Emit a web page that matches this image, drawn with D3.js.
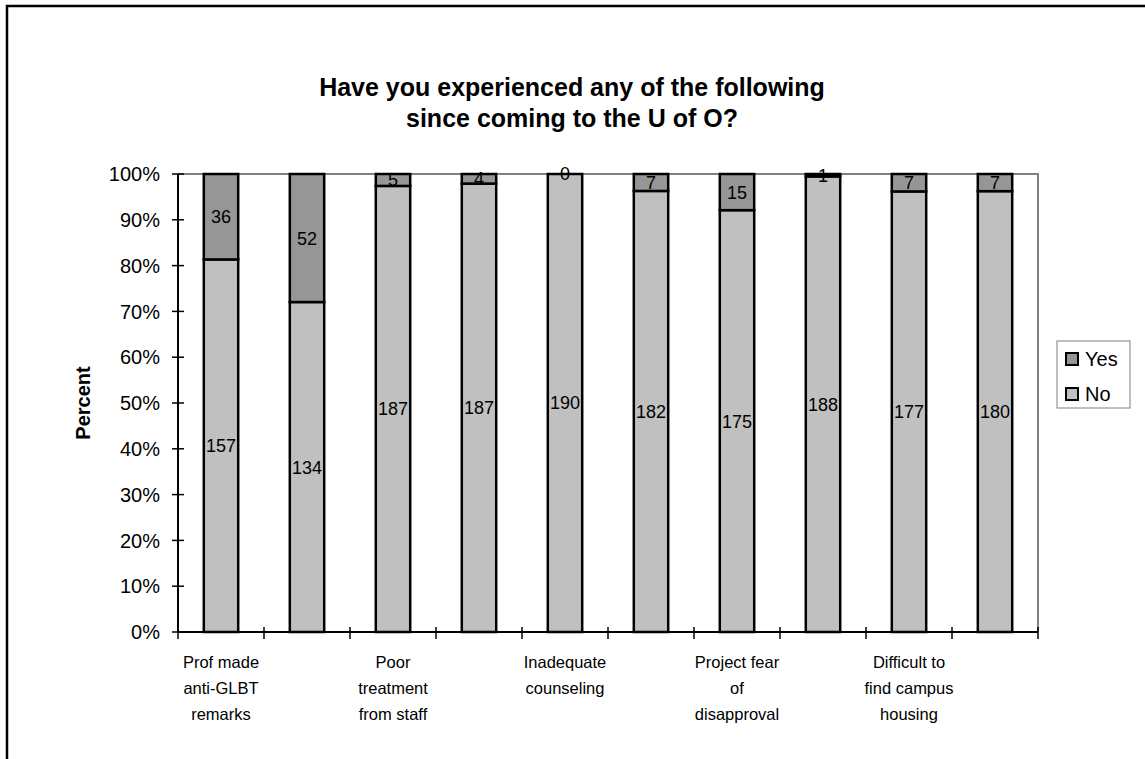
<!DOCTYPE html>
<html>
<head>
<meta charset="utf-8">
<script src="https://cdn.jsdelivr.net/npm/d3@7"></script>
<style>
  body { margin: 0; background: #fff; }
  svg text { font-family: Arial, "Liberation Sans", sans-serif; fill: #000; }
</style>
</head>
<body>
<div id="chart"></div>
<script>
// categories (only every other one is labelled on the axis)
const categories = [
  "Prof made anti-GLBT remarks", "",
  "Poor treatment from staff", "",
  "Inadequate counseling", "",
  "Project fear of disapproval", "",
  "Difficult to find campus housing", ""
];
const categoryLines = [
  ["Prof made", "anti-GLBT", "remarks"], [],
  ["Poor", "treatment", "from staff"], [],
  ["Inadequate", "counseling"], [],
  ["Project fear", "of", "disapproval"], [],
  ["Difficult to", "find campus", "housing"], []
];
const noValues  = [157, 134, 187, 187, 190, 182, 175, 188, 177, 180];
const yesValues = [36, 52, 5, 4, 0, 7, 15, 1, 7, 7];
const seriesNames = ["No", "Yes"];
const seriesColors = {No: "#c0c0c0", Yes: "#969696"};
const yTicks = [0, 0.1, 0.2, 0.3, 0.4, 0.5, 0.6, 0.7, 0.8, 0.9, 1];

const W = 1145, H = 759;
const margin = {top: 174, right: 107, bottom: 127, left: 178};
const width = W - margin.left - margin.right;
const height = H - margin.top - margin.bottom;

const svg = d3.select("#chart").append("svg")
  .attr("width", W).attr("height", H);

// outer frame (runs off the page to right and bottom)
svg.append("rect")
  .attr("x", 7).attr("y", 6)
  .attr("width", W + 20).attr("height", H + 20)
  .attr("fill", "none").attr("stroke", "#000").attr("stroke-width", 2.5);

// title
const title = svg.append("text")
  .attr("x", 572).attr("y", 96)
  .attr("text-anchor", "middle")
  .style("font-size", "25px").style("font-weight", "bold");
title.append("tspan").attr("x", 572).text("Have you experienced any of the following");
title.append("tspan").attr("x", 572).attr("dy", 31).text("since coming to the U of O?");

const chart = svg.append("g").attr("transform", `translate(${margin.left},${margin.top})`);

const table = categories.map((c, i) => ({idx: i, No: noValues[i], Yes: yesValues[i]}));
const stacked = d3.stack().keys(seriesNames).offset(d3.stackOffsetExpand)(table);

const x = d3.scaleBand().domain(d3.range(categories.length)).range([0, width]).paddingInner(0.6).paddingOuter(0.3);
const xTick = d3.scaleLinear().domain([0, categories.length]).range([0, width]);
const y = d3.scaleLinear().domain([0, 1]).range([height, 0]);

// plot border (gray top/right)
chart.append("path")
  .attr("d", `M0,0H${width}V${height}`)
  .attr("fill", "none").attr("stroke", "#808080").attr("stroke-width", 2);

// bars
chart.selectAll(".series")
  .data(stacked)
  .join("g")
    .attr("class", "series")
    .attr("fill", d => seriesColors[d.key])
  .selectAll("rect")
  .data(d => d)
  .join("rect")
    .attr("x", d => x(d.data.idx))
    .attr("width", x.bandwidth())
    .attr("y", d => y(d[1]))
    .attr("height", d => y(d[0]) - y(d[1]))
    .attr("stroke", "#000").attr("stroke-width", 2.5);

// value labels
chart.selectAll(".series-labels")
  .data(stacked)
  .join("g")
    .attr("class", "series-labels")
  .selectAll("text")
  .data(d => d.map(v => ({v, key: d.key})))
  .join("text")
    .attr("x", d => x(d.v.data.idx) + x.bandwidth() / 2)
    .attr("y", d => (y(d.v[0]) + y(d.v[1])) / 2)
    .attr("dy", "0.36em")
    .attr("text-anchor", "middle")
    .style("font-size", "18px")
    .text(d => d.v.data[d.key]);

// y axis
const yAxis = chart.append("g");
yAxis.append("line").attr("x1", 0).attr("x2", 0).attr("y1", 0).attr("y2", height)
  .attr("stroke", "#000").attr("stroke-width", 2);
yAxis.selectAll(".ytick").data(yTicks).join("line")
  .attr("x1", -6).attr("x2", 6)
  .attr("y1", d => y(d)).attr("y2", d => y(d))
  .attr("stroke", "#000").attr("stroke-width", 1.5);
yAxis.selectAll(".ylab").data(yTicks).join("text")
  .attr("x", -18).attr("y", d => y(d)).attr("dy", "0.36em")
  .attr("text-anchor", "end")
  .style("font-size", "20px")
  .text(d3.format(".0%"));

// x axis
const xAxis = chart.append("g").attr("transform", `translate(0,${height})`);
xAxis.append("line").attr("x1", 0).attr("x2", width)
  .attr("stroke", "#000").attr("stroke-width", 2);
xAxis.selectAll(".xtick").data(d3.range(categories.length + 1)).join("line")
  .attr("x1", d => xTick(d)).attr("x2", d => xTick(d))
  .attr("y1", -5).attr("y2", 7)
  .attr("stroke", "#000").attr("stroke-width", 1.5);
xAxis.selectAll(".xlab").data(categoryLines).join("text")
  .attr("text-anchor", "middle")
  .style("font-size", "16.5px")
  .each(function(lines, i) {
    const t = d3.select(this);
    lines.forEach((ln, j) => {
      t.append("tspan")
        .attr("x", x(i) + x.bandwidth() / 2)
        .attr("y", 36 + j * 26)
        .text(ln);
    });
  });

// y axis title
svg.append("text")
  .attr("transform", `translate(90,${margin.top + height / 2}) rotate(-90)`)
  .attr("text-anchor", "middle")
  .style("font-size", "20px").style("font-weight", "bold")
  .text("Percent");

// legend
const legend = svg.append("g").attr("transform", "translate(1057,341)");
legend.append("rect").attr("width", 73).attr("height", 67)
  .attr("fill", "#fff").attr("stroke", "#808080").attr("stroke-width", 1);
const legendItems = ["Yes", "No"];
legend.selectAll(".item").data(legendItems).join("g")
  .attr("transform", (d, i) => `translate(9,${18 + i * 35})`)
  .each(function(d) {
    const g = d3.select(this);
    g.append("rect").attr("x", 0).attr("y", -6).attr("width", 12).attr("height", 12)
      .attr("fill", seriesColors[d]).attr("stroke", "#000").attr("stroke-width", 2);
    g.append("text").attr("x", 19).attr("dy", "0.36em")
      .style("font-size", "20px").text(d);
  });
</script>
</body>
</html>
